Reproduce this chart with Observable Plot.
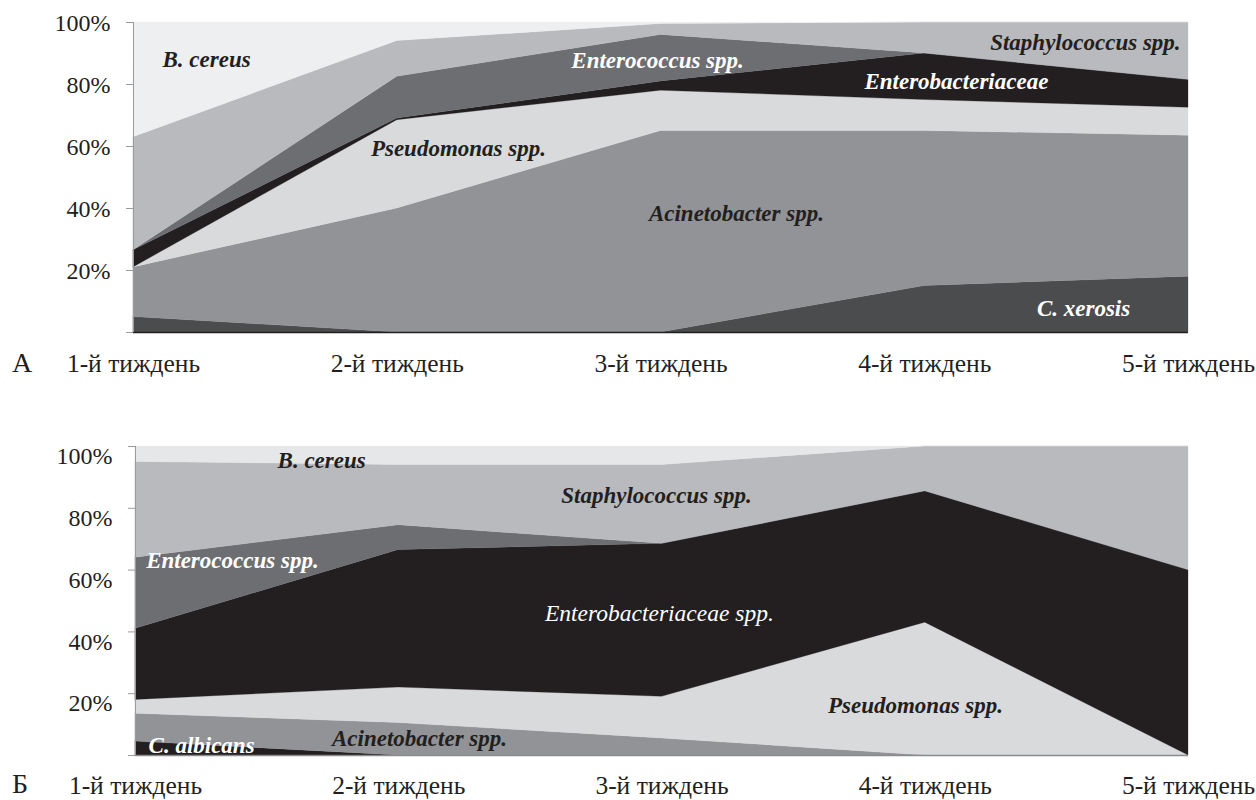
<!DOCTYPE html>
<html><head><meta charset="utf-8">
<script src="https://cdn.jsdelivr.net/npm/d3@7"></script>
<script src="https://cdn.jsdelivr.net/npm/@observablehq/plot@0.6"></script>
<style>
body{margin:0;background:#fff;font-family:"Liberation Serif","Times New Roman",serif;}
#wrap{position:relative;width:1256px;height:800px;overflow:hidden;}
.panel{position:absolute;left:0;width:1256px;height:400px;}
.letter{position:absolute;left:12px;font-size:28px;line-height:1;color:#231f20;font-family:"Liberation Serif","Times New Roman",serif;}
</style></head><body>
<div id="wrap">
<div class="panel" id="pa" style="top:0"></div>
<div class="panel" id="pb" style="top:400px"></div>
<div class="letter" style="top:349px">А</div>
<div class="letter" style="top:770px">Б</div>
</div>
<script>
const FONT = '"Liberation Serif", "Times New Roman", serif';
// Week labels (x axis)
const weeks = ["1-й тиждень", "2-й тиждень", "3-й тиждень", "4-й тиждень", "5-й тиждень"];
const yTicks = [0, 20, 40, 60, 80, 100];

// Panel A: series bottom -> top
const seriesA = ["C. xerosis", "Acinetobacter spp.", "Pseudomonas spp.", "Enterobacteriaceae", "Enterococcus spp.", "Staphylococcus spp.", "B. cereus"];
const xerosisA       = [5, 0, 0, 15, 18];
const acinetobacterA = [16, 40, 65, 50, 45.5];
const pseudomonasA   = [0, 28.5, 13, 10, 9];
const enterobactA    = [5.5, 0.5, 3, 15, 9];
const enterococcusA  = [0, 13.5, 15, 0, 0];
const staphA         = [36.5, 11.5, 3.5, 10, 18.5];
const cereusA        = [37, 6, 0.5, 0, 0];
const colorsA = ["#4b4c4e", "#929396", "#d9dadc", "#231f20", "#6d6e71", "#b9babd", "#eeeff0"];

// Panel B: series bottom -> top
const seriesB = ["C. albicans", "Acinetobacter spp.", "Pseudomonas spp.", "Enterobacteriaceae spp.", "Enterococcus spp.", "Staphylococcus spp.", "B. cereus"];
const albicansB      = [4.5, 0, 0, 0, 0];
const acinetobacterB = [9, 10.5, 5.5, 0, 0];
const pseudomonasB   = [4.5, 11.5, 13.5, 43, 0];
const enterobactB    = [23, 44.5, 49.5, 42.5, 60];
const enterococcusB  = [23, 8, 0, 0, 0];
const staphB         = [31, 19.5, 25.5, 14.5, 40];
const cereusB        = [5, 6, 6, 0, 0];
const colorsB = ["#231f20", "#929396", "#d9dadc", "#231f20", "#6d6e71", "#b9babd", "#e6e7e8"];

// Area labels (week position, percent)
const labelsA = [
  {t: "B. cereus", x: 1.277, y: 88.1, c: "#231f20", w: "bold"},
  {t: "Pseudomonas spp.", x: 2.232, y: 59.2, c: "#231f20", w: "bold"},
  {t: "Enterococcus spp.", x: 2.987, y: 87.7, c: "#ffffff", w: "bold"},
  {t: "Acinetobacter spp.", x: 3.286, y: 38.4, c: "#231f20", w: "bold"},
  {t: "Enterobacteriaceae", x: 4.12, y: 81, c: "#ffffff", w: "bold"},
  {t: "Staphylococcus spp.", x: 4.609, y: 93.4, c: "#231f20", w: "bold"},
  {t: "C. xerosis", x: 4.602, y: 7.7, c: "#ffffff", w: "bold"}
];
const labelsB = [
  {t: "B. cereus", x: 1.707, y: 95.5, c: "#231f20", w: "bold"},
  {t: "Staphylococcus spp.", x: 2.979, y: 84.1, c: "#231f20", w: "bold"},
  {t: "Enterococcus spp.", x: 1.368, y: 63.1, c: "#ffffff", w: "bold"},
  {t: "Enterobacteriaceae spp.", x: 2.99, y: 46, c: "#ffffff", w: "normal"},
  {t: "Pseudomonas spp.", x: 3.963, y: 16.2, c: "#231f20", w: "bold"},
  {t: "Acinetobacter spp.", x: 2.079, y: 5.5, c: "#231f20", w: "bold"},
  {t: "C. albicans", x: 1.251, y: 3.2, c: "#ffffff", w: "bold"}
];

function toLong(series, values) {
  const out = [];
  series.forEach((s, i) => values[i].forEach((v, j) => out.push({species: s, week: j + 1, value: v})));
  return out;
}

function panel(el, series, values, colors, labels, o) {
  const data = toLong(series, values);
  const textMarks = ["bold", "normal"].map(w =>
    Plot.text(labels.filter(d => d.w === w), {
      x: "x", y: "y", text: "t", fill: "c", textAnchor: "middle",
      fontSize: w === "bold" ? 23 : 23.5, fontWeight: w, fontStyle: "italic",
      fontFamily: FONT, lineAnchor: "middle"
    })
  );
  const chart = Plot.plot({
    width: 1256, height: 400,
    marginLeft: o.left, marginRight: 68, marginTop: o.top, marginBottom: o.bottom,
    x: {domain: [1, 5], axis: null},
    y: {domain: [0, 100], axis: null},
    color: {domain: series, range: colors},
    style: {fontFamily: FONT, color: "#231f20", background: "transparent", overflow: "visible"},
    marks: [
      Plot.areaY(data, {x: "week", y: "value", z: "species", fill: "species", stroke: "species", strokeWidth: 0.3, order: series, curve: "linear"}),
      Plot.ruleY([0], {stroke: o.baseColor, strokeWidth: 1.3}),
      Plot.ruleX([1], {stroke: "#9a9b9d", strokeWidth: 1}),
      // tick marks
      Plot.axisY({ticks: yTicks, tickFormat: () => "", tickSize: 7, stroke: "#9a9b9d", label: null}),
      // tick labels
      Plot.axisY({ticks: yTicks, tickFormat: d => d === 0 ? "" : d + "%", tickSize: 0, tickPadding: 23,
        fontSize: 24, fontFamily: FONT, fill: "#231f20", stroke: "none", label: null, dy: o.ydy}),
      Plot.axisX({ticks: [1, 2, 3, 4, 5], tickFormat: d => weeks[d - 1], tickSize: 0, tickPadding: o.xpad,
        fontSize: 25.5, fontFamily: FONT, fill: "#231f20", label: null}),
      ...textMarks
    ]
  });
  document.getElementById(el).appendChild(chart);
}

panel("pa", seriesA, [xerosisA, acinetobacterA, pseudomonasA, enterobactA, enterococcusA, staphA, cereusA], colorsA, labelsA,
  {left: 133, top: 22, bottom: 68, baseColor: "#231f20", ydy: 1, xpad: 21});
panel("pb", seriesB, [albicansB, acinetobacterB, pseudomonasB, enterobactB, enterococcusB, staphB, cereusB], colorsB, labelsB,
  {left: 135, top: 46, bottom: 45, baseColor: "#8a8b8d", ydy: 10, xpad: 20});
</script>
</body></html>
